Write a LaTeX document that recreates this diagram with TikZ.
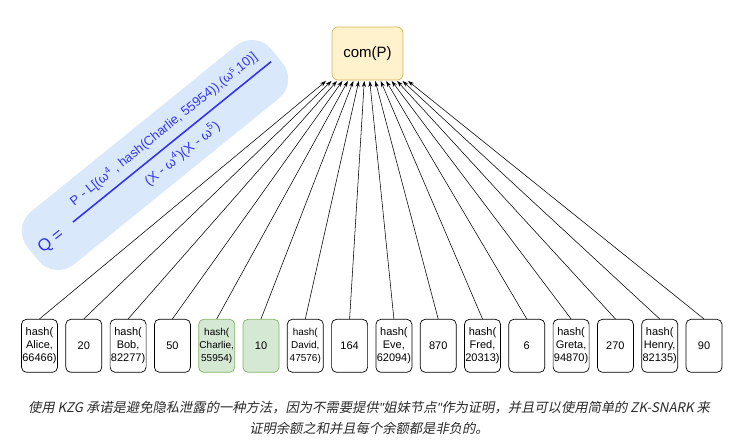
\documentclass[tikz,border=0pt]{standalone}
\usepackage{fontspec}
\setmainfont{Liberation Sans}
\newfontfamily\cjk[FakeSlant=0.2]{Noto Sans CJK SC}
\newfontfamily\latslant[FakeSlant=0.2]{Liberation Sans}
\usetikzlibrary{arrows.meta}
\definecolor{qblue}{HTML}{3535F0}
\definecolor{qbg}{HTML}{DAE8FC}
\definecolor{gfill}{HTML}{D5E8D4}
\definecolor{gline}{HTML}{82B366}
\definecolor{yfill}{HTML}{FFF2CC}
\definecolor{yline}{HTML}{D6B656}
\definecolor{captext}{HTML}{2B2B2B}
\begin{document}
\begin{tikzpicture}[x=1pt,y=-1pt,
  leaf/.style={draw, rounded corners=5pt, minimum width=36pt, minimum height=53pt, inner sep=0pt, align=center, font=\fontsize{11}{13}\selectfont, line width=0.7pt},
  small/.style={font=\fontsize{10}{13}\selectfont},
  greenbox/.style={fill=gfill, draw=gline},
  conn/.style={-{Stealth[length=6pt,width=4pt]}, line width=0.55pt},
  qtext/.style={text=qblue, inner sep=0pt}]
\useasboundingbox (0,0) rectangle (738,445);

% rotated formula
\begin{scope}[shift={(155,155)}, rotate=39, transform shape]
  \node[fill=qbg, rounded corners=25pt, minimum width=314pt, minimum height=68pt, inner sep=0pt] (qbg) at (0,0) {};
  \node[qtext, font=\fontsize{17}{20}\selectfont] (qeq) at (-135,2) {Q =};
  \node[qtext, font=\fontsize{13}{15}\selectfont] (num) at (23,-14.5) {P - L[(ω\textsuperscript{4} , hash(Charlie, 55954)),(ω\textsuperscript{\scriptsize 5},10)]};
  \node[qtext, font=\fontsize{13.5}{15}\selectfont] (den) at (22,16) {(X - ω\textsuperscript{4})(X - ω\textsuperscript{5})};
  \coordinate (fl) at (-106,0.5);
  \coordinate (fr) at (149,0.5);
  \draw[qblue, line width=1.6pt] (fl) -- (fr);
\end{scope}

% top node
\node[draw=yline, fill=yfill, rounded corners=6pt, minimum width=71pt, minimum height=53pt, font=\fontsize{15}{18}\selectfont, line width=0.7pt] (com) at (367.5,53.5) {com(P)};

% leaves
\node[leaf] (l1) at (39.5,345.8) {hash(\\Alice,\\66466)};
\node[leaf] (l2) at (83.8,345.8) {20};
\node[leaf] (l3) at (128.1,345.8) {hash(\\Bob,\\82277)};
\node[leaf] (l4) at (172.4,345.8) {50};
\node[leaf, greenbox, small] (l5) at (216.7,345.8) {hash(\\Charlie,\\55954)};
\node[leaf, greenbox] (l6) at (261.0,345.8) {10};
\node[leaf, small] (l7) at (305.3,345.8) {hash(\\David,\\47576)};
\node[leaf] (l8) at (349.6,345.8) {164};
\node[leaf] (l9) at (393.9,345.8) {hash(\\Eve,\\62094)};
\node[leaf] (l10) at (438.2,345.8) {870};
\node[leaf] (l11) at (482.5,345.8) {hash(\\Fred,\\20313)};
\node[leaf] (l12) at (526.8,345.8) {6};
\node[leaf] (l13) at (571.1,345.8) {hash(\\Greta,\\94870)};
\node[leaf] (l14) at (615.4,345.8) {270};
\node[leaf] (l15) at (659.7,345.8) {hash(\\Henry,\\82135)};
\node[leaf] (l16) at (704.0,345.8) {90};

\foreach \i in {1,...,16} {
  \coordinate (e\i) at ({326+5.47*(\i-1)},81);
  \draw[conn] (l\i.north) -- (e\i);
}

% caption
\node[text=captext, font=\cjk\fontsize{13.3}{16}\selectfont, inner sep=0pt] (cap1) at (369,408) {使用 KZG 承诺是避免隐私泄露的一种方法，因为不需要提供{\latslant"}姐妹节点{\latslant"}作为证明，并且可以使用简单的 ZK-SNARK 来};
\node[text=captext, font=\cjk\fontsize{13.3}{16}\selectfont, inner sep=0pt] (cap2) at (369,428) {证明余额之和并且每个余额都是非负的。};
\end{tikzpicture}
\end{document}
